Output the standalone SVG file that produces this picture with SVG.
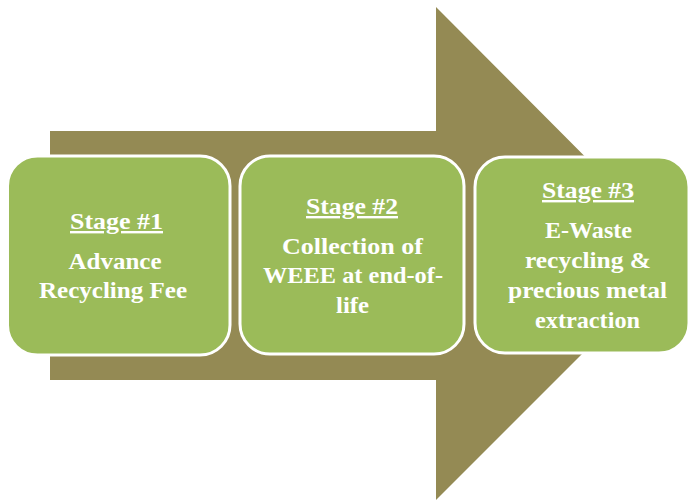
<svg xmlns="http://www.w3.org/2000/svg" width="690" height="502" viewBox="0 0 690 502">
<style>
.box{fill:#9BBB59;stroke:#FFFFFF;stroke-width:3}
.t{font-family:"Liberation Serif","Times New Roman",serif;font-weight:bold;font-size:24px;fill:#FFFFFF;text-anchor:middle}
.u{text-decoration:underline}
</style>
<rect width="690" height="502" fill="#FFFFFF"/>
<g id="arrow">
<polygon points="50,131 436,131 436,7 682,254 436,500 436,380 50,380" fill="#948A54"/>
</g>
<g id="connectors"></g>
<g id="stage1">
<rect class="box" x="7.5" y="156" width="222.5" height="199" rx="30"/>
<text class="t u" x="116.5" y="229" textLength="93" lengthAdjust="spacingAndGlyphs">Stage  #1</text>
<text class="t" x="115" y="269" textLength="93" lengthAdjust="spacingAndGlyphs">Advance</text>
<text class="t" x="113" y="298" textLength="148" lengthAdjust="spacingAndGlyphs">Recycling Fee</text>
</g>
<g id="stage2">
<rect class="box" x="240" y="156" width="224" height="198" rx="30"/>
<text class="t u" x="352" y="214" textLength="92" lengthAdjust="spacingAndGlyphs">Stage  #2</text>
<text class="t" x="352.5" y="254" textLength="141" lengthAdjust="spacingAndGlyphs">Collection of</text>
<text class="t" x="353" y="283" textLength="180" lengthAdjust="spacingAndGlyphs">WEEE at end-of-</text>
<text class="t" x="352.5" y="313" textLength="33" lengthAdjust="spacingAndGlyphs">life</text>
</g>
<g id="stage3">
<rect class="box" x="475" y="157" width="214" height="196" rx="30"/>
<text class="t u" x="588" y="198" textLength="92" lengthAdjust="spacingAndGlyphs">Stage  #3</text>
<text class="t" x="588.5" y="238" textLength="87" lengthAdjust="spacingAndGlyphs">E-Waste</text>
<text class="t" x="588" y="268" textLength="126" lengthAdjust="spacingAndGlyphs">recycling &amp;</text>
<text class="t" x="587.5" y="298" textLength="159" lengthAdjust="spacingAndGlyphs">precious metal</text>
<text class="t" x="587.5" y="328" textLength="105" lengthAdjust="spacingAndGlyphs">extraction</text>
</g>
</svg>
